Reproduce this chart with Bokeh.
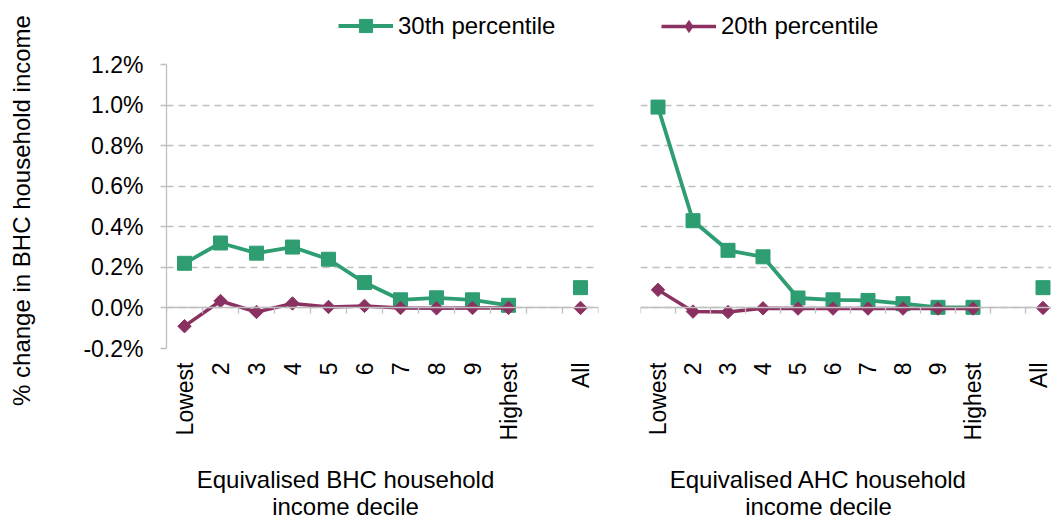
from math import pi
from bokeh.plotting import figure
from bokeh.models import (Range1d, FixedTicker, LinearAxis, PrintfTickFormatter,
                          Legend, LegendItem, Label, CustomJSTickFormatter)
from bokeh.layouts import row, column
from bokeh.embed import file_html
from bokeh.resources import INLINE

# ---------------- data ----------------
axis_slots = ["Lowest", "2", "3", "4", "5", "6", "7", "8", "9", "Highest", "", "All"]
categories = ["Lowest", "2", "3", "4", "5", "6", "7", "8", "9", "Highest", "All"]
deciles = categories[:10]

bhc_30th = [0.22, 0.32, 0.27, 0.30, 0.24, 0.125, 0.04, 0.05, 0.04, 0.013, 0.10]
bhc_20th = [-0.09, 0.034, -0.02, 0.022, 0.005, 0.01, 0.0, -0.002, 0.0, 0.0, 0.0]
ahc_30th = [0.99, 0.43, 0.284, 0.252, 0.049, 0.04, 0.037, 0.021, 0.003, 0.003, 0.10]
ahc_20th = [0.089, -0.018, -0.02, -0.002, -0.003, -0.003, -0.003, -0.003, -0.003, -0.003, 0.0]

y_ticks = [-0.2, 0.0, 0.2, 0.4, 0.6, 0.8, 1.0, 1.2]
y_title = "% change in BHC household income"
x_titles = [["Equivalised BHC household", "income decile"],
            ["Equivalised AHC household", "income decile"]]
series_names = ["30th percentile", "20th percentile"]

# ---------------- style / layout ----------------
GREEN = "#2E9E72"
PURPLE = "#8B3162"
GRID = "#BFBFBF"
FONT = "Liberation Sans"
TICK_FS = "23px"
TITLE_FS = "24px"
W, H = 1051, 519
YT_W = 40          # strip holding the y title
LEG_H = 50         # strip holding the legend
PANEL_TOP = 14
FRAME_H = 284
PANEL_BOTTOM = 100
XT_H = H - LEG_H - PANEL_TOP - FRAME_H - PANEL_BOTTOM


def pos(cat):
    return axis_slots.index(cat)


def strip(width, height):
    s = figure(frame_width=width, frame_height=height, min_border=0,
               x_axis_location=None, y_axis_location=None,
               x_range=Range1d(0, width), y_range=Range1d(height, 0),
               output_backend="svg", toolbar_location=None)
    s.outline_line_color = None
    s.grid.visible = False
    return s


def make_panel(s30, s20, show_y, frame_width, unit, border_left, border_right):
    p = figure(frame_width=frame_width, frame_height=FRAME_H,
               min_border_left=border_left, min_border_right=border_right,
               min_border_top=PANEL_TOP, min_border_bottom=PANEL_BOTTOM,
               x_range=Range1d(-0.5, -0.5 + frame_width / unit),
               y_range=Range1d(-0.2, 1.2),
               output_backend="svg", toolbar_location=None)
    p.outline_line_color = None

    p.xgrid.visible = False
    p.ygrid.ticker = FixedTicker(ticks=y_ticks)
    p.ygrid.grid_line_color = GRID
    p.ygrid.grid_line_dash = "7 5"
    p.ygrid.grid_line_width = 1.3

    p.yaxis.ticker = FixedTicker(ticks=y_ticks)
    p.yaxis.formatter = PrintfTickFormatter(format="%.1f%%")
    if show_y:
        p.yaxis.axis_line_color = GRID
        p.yaxis.axis_line_width = 1.3
        p.yaxis.major_tick_line_color = GRID
        p.yaxis.major_tick_line_width = 1.3
        p.yaxis.major_tick_out = 6
        p.yaxis.major_tick_in = 0
        p.yaxis.minor_tick_line_color = None
        p.yaxis.major_label_standoff = 17
        p.yaxis.major_label_text_font = FONT
        p.yaxis.major_label_text_font_size = TICK_FS
        p.yaxis.major_label_text_color = "black"
    else:
        p.yaxis.visible = False

    # axis line at zero with ticks at category boundaries
    xa = p.xaxis[0]
    xa.fixed_location = 0
    xa.ticker = FixedTicker(ticks=[i - 0.5 for i in range(len(axis_slots) + 1)])
    xa.axis_line_color = GRID
    xa.axis_line_width = 1.3
    xa.major_tick_line_color = GRID
    xa.major_tick_line_width = 1.3
    xa.major_tick_out = 6
    xa.major_tick_in = 0
    xa.minor_tick_line_color = None
    xa.formatter = CustomJSTickFormatter(code="return ''")
    xa.major_label_standoff = 0

    # category labels at the bottom
    lab = LinearAxis(ticker=FixedTicker(ticks=[pos(c) for c in categories]),
                     major_label_overrides={pos(c): c for c in categories},
                     axis_line_color=None, major_tick_line_color=None,
                     minor_tick_line_color=None,
                     major_label_orientation=pi / 2,
                     major_label_standoff=8,
                     major_label_text_font=FONT,
                     major_label_text_font_size=TICK_FS,
                     major_label_text_color="black")
    p.add_layout(lab, "below")

    xs_dec = [pos(c) for c in deciles]
    xs_all = [pos(c) for c in categories]
    p.line(xs_dec, s30[:10], line_color=GREEN, line_width=3.8)
    p.scatter(xs_all, s30, marker="square", size=14, fill_color=GREEN, line_color=GREEN)
    p.line(xs_dec, s20[:10], line_color=PURPLE, line_width=3.5)
    p.scatter(xs_all, s20, marker="square", angle=pi / 4, size=9.5,
              fill_color=PURPLE, line_color=PURPLE)
    return p


# ---------------- y title strip ----------------
yt = strip(YT_W, H)
yt.add_layout(Label(x=21, y=210, text=y_title, angle=pi / 2, text_align="center",
                    text_baseline="middle", text_font=FONT, text_font_size=TITLE_FS,
                    text_color="black"))

# ---------------- legend strip ----------------
lg = strip(W - YT_W, LEG_H)
l30 = lg.line([-5, -4], [-5, -4], line_color=GREEN, line_width=3.8)
m30 = lg.scatter([-5], [-5], marker="square", fill_color=GREEN, line_color=GREEN)
l20 = lg.line([-5, -4], [-5, -4], line_color=PURPLE, line_width=3.5)
m20 = lg.scatter([-5], [-5], marker="diamond", fill_color=PURPLE, line_color=PURPLE)
for name, rs, gh, lx in [(series_names[0], [l30, m30], 33, 338 - YT_W),
                         (series_names[1], [l20, m20], 30, 661 - YT_W)]:
    leg = Legend(items=[LegendItem(label=name, renderers=rs)],
                 location=(lx, LEG_H - 25.7 - gh / 2), orientation="horizontal",
                 glyph_width=55, glyph_height=gh, label_standoff=5, label_height=gh,
                 label_text_font=FONT, label_text_font_size=TITLE_FS,
                 label_text_color="black", padding=0, margin=0, spacing=0,
                 border_line_color=None, background_fill_alpha=0)
    lg.add_layout(leg)

# ---------------- panels ----------------
left = make_panel(bhc_30th, bhc_20th, True, 432, 36, 166 - YT_W, 22)
right = make_panel(ahc_30th, ahc_20th, False, 411, 35, 20, 0)

# ---------------- x title strip ----------------
xt = strip(W - YT_W, XT_H)
top_of_xt = H - XT_H
for (l1, l2), cx in zip(x_titles, [345 - YT_W, 818 - YT_W]):
    for txt, cy in [(l1, 479), (l2, 505.5)]:
        xt.add_layout(Label(x=cx, y=cy - top_of_xt, text=txt, text_align="center",
                            text_baseline="middle", text_font=FONT,
                            text_font_size=TITLE_FS, text_color="black"))

layout = row(yt, column(lg, row(left, right, spacing=0), xt, spacing=0), spacing=0)
open("out.html", "w").write(file_html(layout, INLINE))
